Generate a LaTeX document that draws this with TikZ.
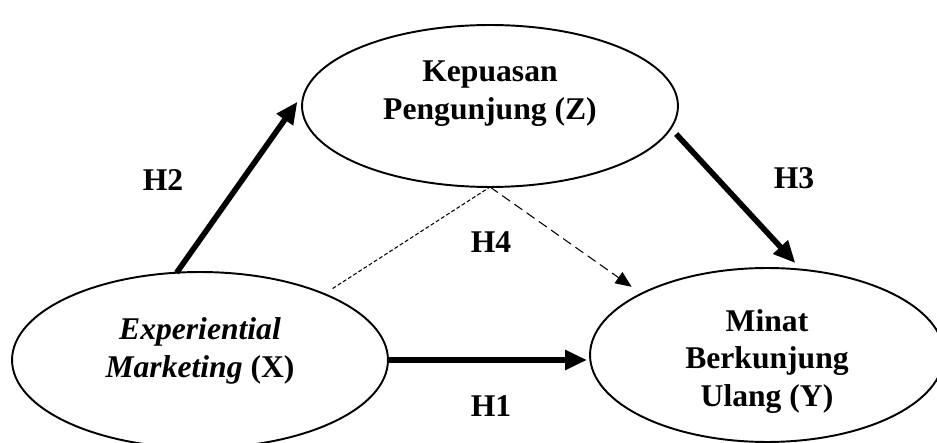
\documentclass[tikz,border=0pt]{standalone}
\usepackage{fontspec}
\setmainfont{Liberation Serif}
\usetikzlibrary{arrows.meta,shapes.geometric}

\begin{document}
\begin{tikzpicture}[x=0.02cm,y=0.02cm,line join=round,
  font=\fontsize{18}{21.5}\selectfont\bfseries,
  var/.style={ellipse,draw,line width=1.1pt,inner sep=0pt,outer sep=0pt},
  hyp/.style={line width=3.2pt,-{Triangle[length=0.44cm,width=0.38cm]}},
  dotline/.style={line width=0.6pt,dash pattern=on 2.2pt off 1.3pt},
  dashline/.style={line width=0.6pt,dash pattern=on 5.5pt off 3pt,
    -{Triangle[length=0.32cm,width=0.27cm]}},
  hlab/.style={inner sep=0pt}]
  \useasboundingbox (0,0) rectangle (937,443);
  % variables
  \node[var,minimum width=7.52cm,minimum height=3.24cm,
    label={[yshift=0.25cm,align=center]center:Kepuasan\\Pengunjung (Z)}] (ze) at (490,337) {};
  \node[var,minimum width=7.52cm,minimum height=3.52cm,
    label={[yshift=0.18cm,align=center]center:\textit{Experiential}\\\textit{Marketing} (X)}] (xe) at (200,83) {};
  \node[var,minimum width=7.08cm,minimum height=3.48cm,
    label={[yshift=-0.13cm,align=center]center:Minat\\Berkunjung\\Ulang (Y)}] (ye) at (767,88) {};
  % hypotheses
  \draw[hyp,shorten >=0.29cm] (xe.105) -- (ze.175);
  \draw[hyp,shorten <=0.16cm,shorten >=0.18cm] (ze.353) -- (ye.68);
  \draw[hyp,shorten >=0.06cm] (xe.east) -- (xe.east -| ye.west);
  \draw[dotline,shorten <=0.2cm] (xe.28) -- (ze.south);
  \draw[dashline,shorten >=0.24cm] (ze.south) -- (ye.154);
  % labels
  \node[hlab] (h2) at (163,263) {H2};
  \node[hlab] (h3) at (794,265) {H3};
  \node[hlab] (h4) at (491,201) {H4};
  \node[hlab] (h1) at (491,37) {H1};
\end{tikzpicture}
\end{document}
